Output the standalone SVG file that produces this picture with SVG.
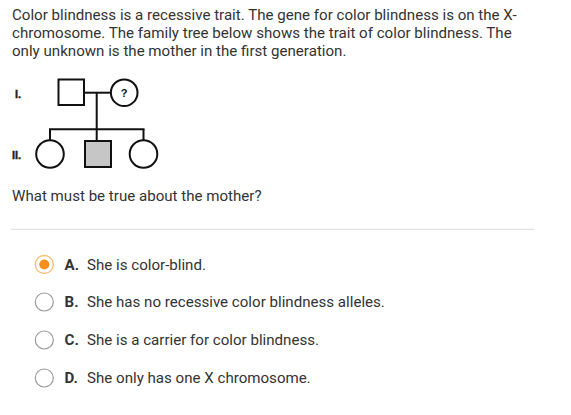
<svg xmlns="http://www.w3.org/2000/svg" width="571" height="415" viewBox="0 0 571 415">
<style>
.t{font-family:Roboto,"Liberation Sans",sans-serif;font-size:15.1px;fill:#333}
.b{font-weight:bold}
.lab{font-family:"Liberation Sans",Arial,sans-serif;font-size:11px;font-weight:bold;fill:#222;stroke:#222;stroke-width:0.4}
.ln{stroke:#111;stroke-width:2;fill:none}
.sh{stroke:#111;stroke-width:2;fill:#fff}
.radio{fill:#fff;stroke:#9a9a9a;stroke-width:1.2}
</style>
<rect width="571" height="415" fill="#fff"/>
<g id="question">
<text class="t" x="12" y="20">Color blindness is a recessive trait. The gene for color blindness is on the X-</text>
<text class="t" x="12" y="38">chromosome. The family tree below shows the trait of color blindness. The</text>
<text class="t" x="12" y="56">only unknown is the mother in the first generation.</text>
</g>
<g id="gen-labels">
<text class="lab" x="15" y="97.5">I.</text>
<text class="lab" x="12" y="158.5">II.</text>
</g>
<g id="connectors">
<line class="ln" x1="84" y1="92.7" x2="110.5" y2="92.7"/>
<line class="ln" x1="96.7" y1="92.7" x2="96.7" y2="141"/>
<line class="ln" x1="49" y1="129.3" x2="144.5" y2="129.3"/>
<line class="ln" x1="50" y1="129.3" x2="50" y2="140"/>
<line class="ln" x1="143.5" y1="129.3" x2="143.5" y2="140"/>
</g>
<g id="father"><rect class="sh" x="58.5" y="79.5" width="25.5" height="25.5"/></g>
<g id="mother"><circle class="sh" cx="124.2" cy="92.7" r="13.3"/><text x="124.2" y="97" text-anchor="middle" style="font-family:'Liberation Sans',Arial,sans-serif;font-size:11px;font-weight:bold;fill:#111">?</text></g>
<g id="daughter1"><circle class="sh" cx="50" cy="154" r="13.8"/></g>
<g id="son"><rect x="85" y="141" width="26" height="26" fill="#c6c6c6" stroke="#111" stroke-width="2"/></g>
<g id="daughter2"><circle class="sh" cx="143.5" cy="154" r="13.8"/></g>
<g id="prompt"><text class="t" x="12" y="201">What must be true about the mother?</text></g>
<line x1="11" y1="229.3" x2="534" y2="229.3" stroke="#dcdcdc" stroke-width="1"/>
<g id="optA">
<circle cx="44.3" cy="264.5" r="9" fill="#fff" stroke="#f5bd6e" stroke-width="1.3"/>
<circle cx="44.3" cy="264.5" r="5" fill="#f5901e"/>
<text class="t" x="64.5" y="269.5"><tspan class="b">A.</tspan><tspan x="87">She is color-blind.</tspan></text>
</g>
<g id="optB">
<circle class="radio" cx="44.3" cy="302" r="9"/>
<text class="t" x="64.5" y="307"><tspan class="b">B.</tspan><tspan x="87">She has no recessive color blindness alleles.</tspan></text>
</g>
<g id="optC">
<circle class="radio" cx="44.3" cy="340" r="9"/>
<text class="t" x="64.5" y="345"><tspan class="b">C.</tspan><tspan x="87">She is a carrier for color blindness.</tspan></text>
</g>
<g id="optD">
<circle class="radio" cx="44.3" cy="378" r="9"/>
<text class="t" x="64.5" y="383"><tspan class="b">D.</tspan><tspan x="87">She only has one X chromosome.</tspan></text>
</g>
</svg>
